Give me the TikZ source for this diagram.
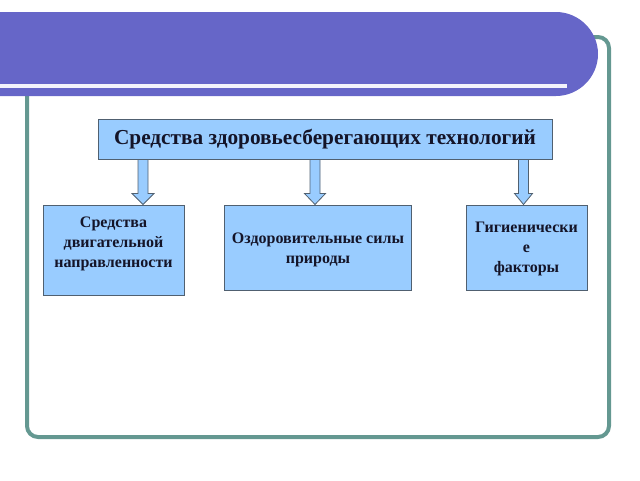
\documentclass[tikz,border=0pt]{standalone}
\usepackage{fontspec}
\setmainfont{Liberation Serif}
\usetikzlibrary{calc}
\definecolor{bannerc}{RGB}{102,102,200}
\definecolor{framec}{RGB}{100,152,145}
\definecolor{boxfill}{RGB}{153,204,255}
\definecolor{boxline}{RGB}{80,96,112}
\definecolor{txt}{RGB}{20,20,40}
\tikzset{
  mainbox/.style={draw=boxline, fill=boxfill, line width=1pt, text=txt, font=\bfseries\fontsize{21.3}{25}\selectfont, inner sep=0pt},
  subbox/.style={draw=boxline, fill=boxfill, line width=1pt, inner sep=0pt},
  subtext/.style={text=txt, font=\bfseries\fontsize{16}{20}\selectfont, align=center, inner sep=0pt},
  blockar/.style={draw=boxline, fill=boxfill, line width=0.8pt, line join=miter}
}
\begin{document}
\begin{tikzpicture}[x=1pt,y=-1pt]
\useasboundingbox (0,0) rectangle (640,480);
% frame
\draw[framec, line width=4pt, rounded corners=11pt] (27,37) rectangle (609,437);
% banner
\fill[bannerc] (0,12) -- (556,12) .. controls (579,12) and (598,31) .. (598,54) .. controls (598,77) and (579,96) .. (556,96) -- (0,96) -- cycle;
\fill[white!92!bannerc] (0,84) rectangle (567,87.5);
% nodes
\node[mainbox, minimum width=454pt, minimum height=40pt] (m) at (325,139) {Средства здоровьесберегающих технологий};
\node[subbox, minimum width=141pt, minimum height=90pt] (b1) at (113.5,250) {};
\node[subbox, minimum width=187pt, minimum height=85pt] (b2) at (318,247.5) {};
\node[subbox, minimum width=121pt, minimum height=85pt] (b3) at (526.5,247.5) {};
\node[subtext] (t1) at (113.5,244) {Средства\\двигательной\\направленности};
\node[subtext] (t2) at (318,250) {Оздоровительные силы\\природы};
\node[subtext] (t3) at (526.5,248.5) {Гигиенически\\е\\факторы};
\coordinate (a1) at (143,0);
\coordinate (a2) at (315,0);
\coordinate (a3) at (523.5,0);
\foreach \a/\b/\h in {a1/b1/11,a2/b2/10.5,a3/b3/9}{
  \draw[blockar] let \p1=(m.south -| \a), \p2=(\b.north -| \a) in
    (\x1-5pt,\y1) -- (\x1-5pt,\y2+11pt) -- (\x1-\h pt,\y2+11pt) -- (\x2,\y2)
    -- (\x1+\h pt,\y2+11pt) -- (\x1+5pt,\y2+11pt) -- (\x1+5pt,\y1) -- cycle;
}
\end{tikzpicture}
\end{document}
